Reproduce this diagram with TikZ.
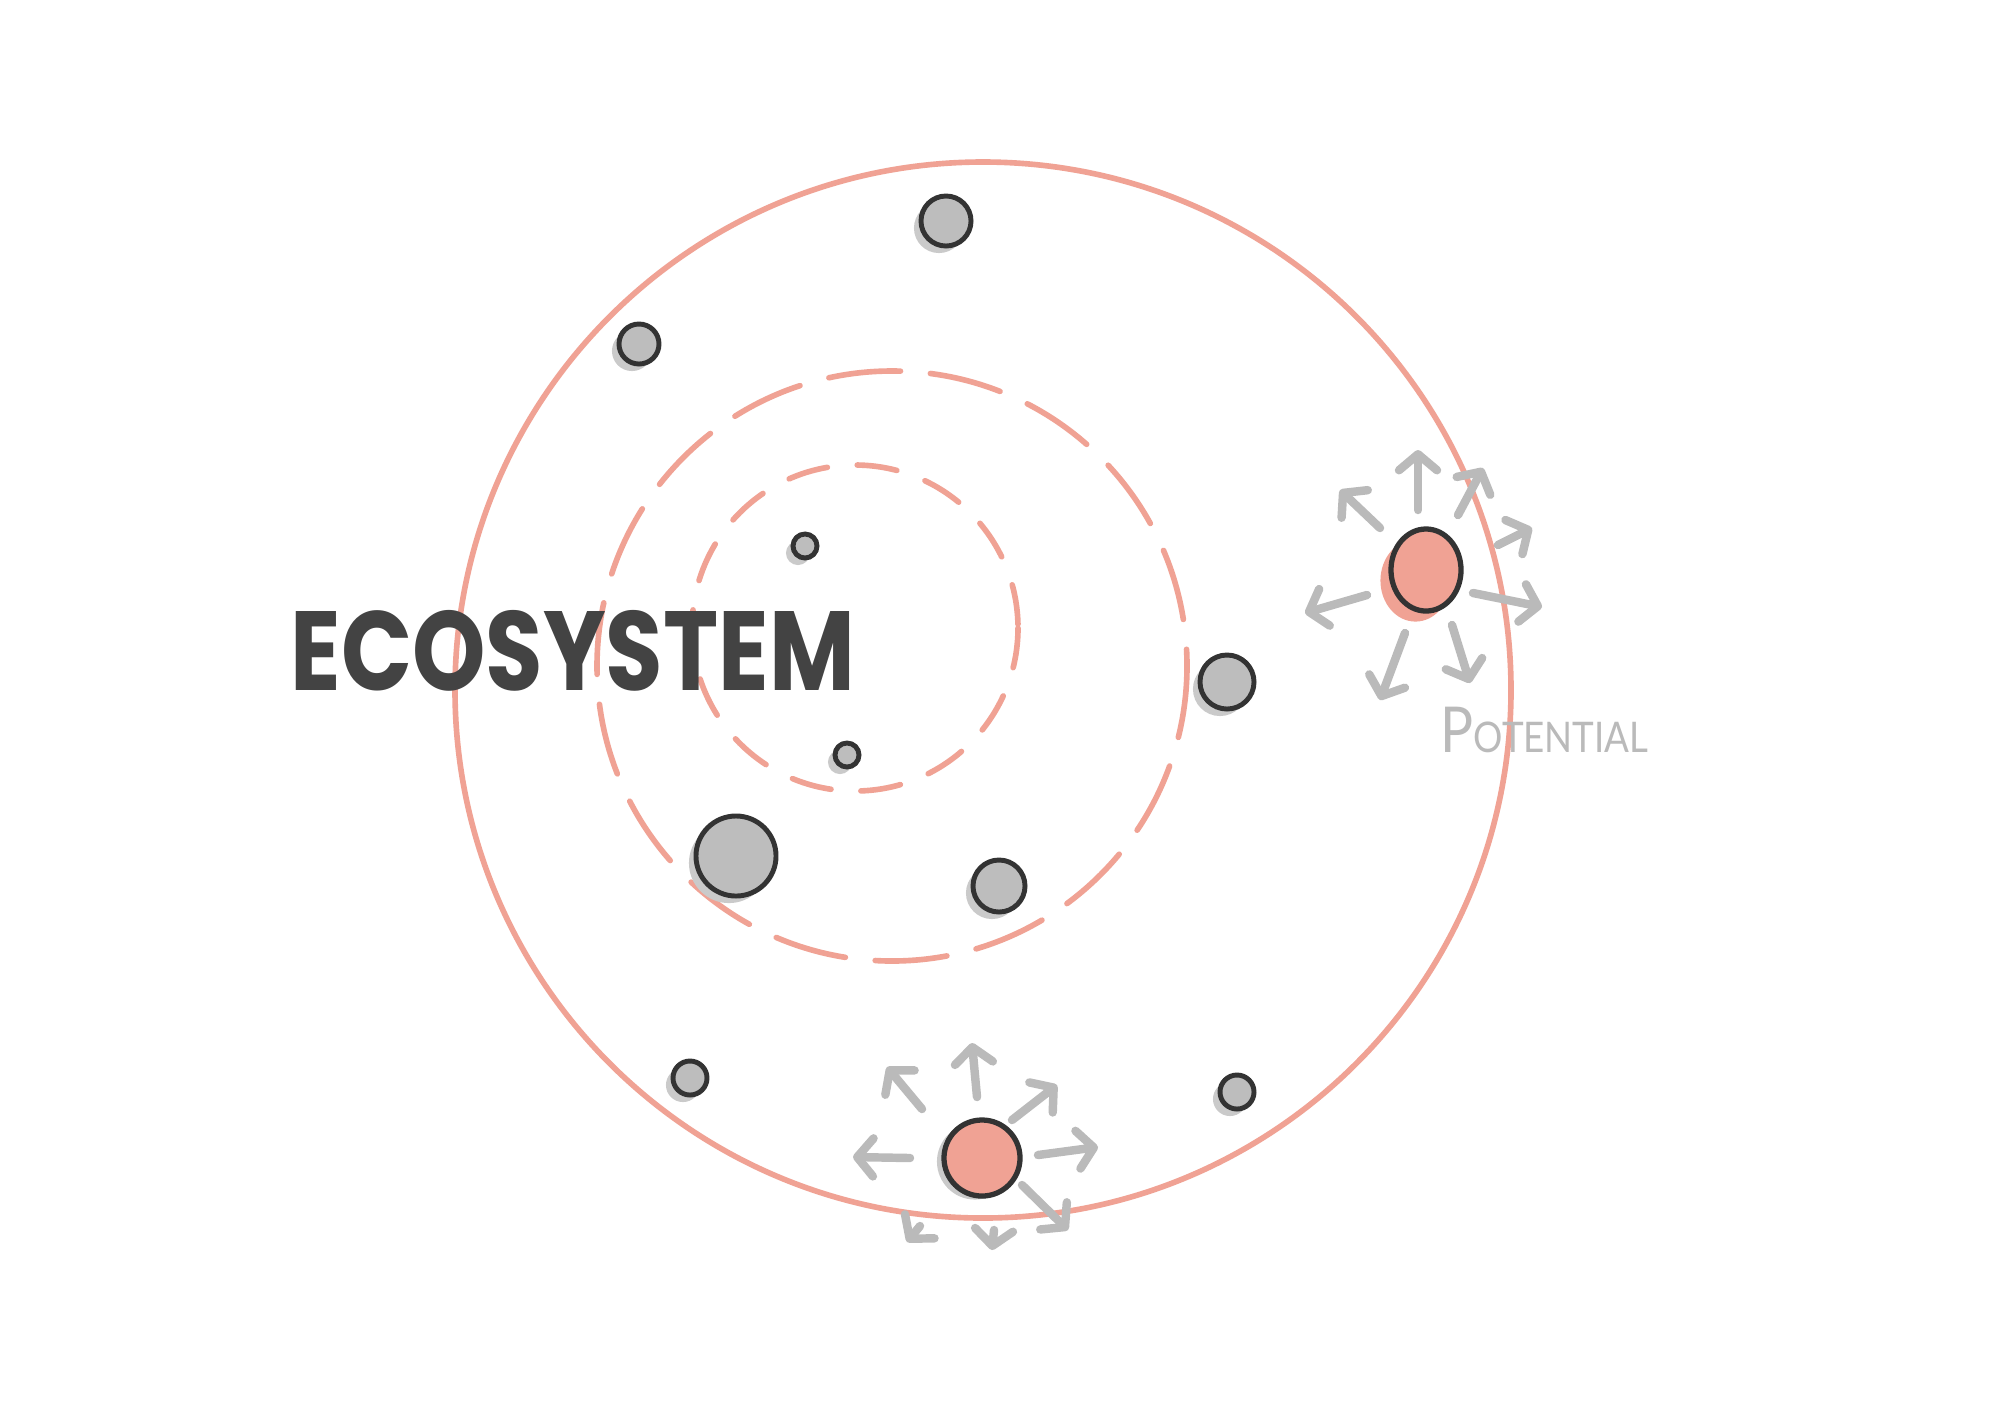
\documentclass[tikz,border=0pt]{standalone}
\usepackage{fontspec}
\usepackage{xcolor}
\usepackage{tikz}
\usetikzlibrary{positioning, calc, shadows, shapes.geometric, arrows.meta}
\newfontfamily\handfont[FakeStretch=0.83]{Poppins}
\newfontfamily\notefont[FakeStretch=0.87]{Lato}
\definecolor{OrbitRed}{HTML}{F0A294}
\definecolor{DotFill}{HTML}{BDBDBD}
\definecolor{DotShade}{HTML}{CACACA}
\definecolor{DotLine}{HTML}{333333}
\definecolor{InkGrey}{HTML}{434343}
\definecolor{ArrowGrey}{HTML}{BABABA}

\begin{document}
\begin{tikzpicture}[x=0.01cm, y=-0.01cm,
					ActorNode/.style={circle, draw=DotLine, fill=DotFill, line width=1.4pt, inner sep=0pt, drop shadow={fill=DotShade, opacity=1, shadow xshift=-2pt, shadow yshift=-2pt}},
					SeedNode/.style={ellipse, draw=DotLine, fill=OrbitRed, line width=1.5pt, inner sep=0pt},
					Orbit/.style={draw=OrbitRed, line width=1.6pt, line cap=round},
					FlowArrow/.style={draw=ArrowGrey, line width=2.4pt, line cap=round, line join=round, -{Straight Barb[round, length=1.6mm, width=3.8mm]}}]

				\fill[white] (0,0) rectangle (2000,1414);
				\useasboundingbox (0,0) rectangle (2000,1414);

				% orbits
				\draw[Orbit] (983,690) circle (528);
				\draw[Orbit, dash pattern=on 0.72cm off 0.3cm] (892,666) circle (295);
				\draw[Orbit, dash pattern=on 0.4cm off 0.3cm] (855,628) circle (163);

				\node[anchor=base west, inner sep=0pt, text=InkGrey, font=\handfont\bfseries\fontsize{32}{32}\selectfont] (Title) at (290,690) {ECOSYSTEM};

				% members
				\node[ActorNode, minimum size=0.5cm] (Actor1) at (946,221) {};
				\node[ActorNode, minimum size=0.4cm] (Actor2) at (639,344) {};
				\node[ActorNode, minimum size=0.24cm] (Actor3) at (805,546) {};
				\node[ActorNode, minimum size=0.24cm] (Actor4) at (847,755) {};
				\node[ActorNode, minimum size=0.8cm] (Actor5) at (736,856) {};
				\node[ActorNode, minimum size=0.52cm] (Actor6) at (999,886) {};
				\node[ActorNode, minimum size=0.54cm] (Actor7) at (1227,682) {};
				\node[ActorNode, minimum size=0.34cm] (Actor8) at (690,1078) {};
				\node[ActorNode, minimum size=0.34cm] (Actor9) at (1237,1092) {};

				% new players
				\node[SeedNode, minimum width=0.7cm, minimum height=0.82cm, drop shadow={fill=OrbitRed, opacity=1, shadow xshift=-3pt, shadow yshift=-3pt}] (Seed) at (1426,570) {};
				\node[SeedNode, circle, minimum size=0.76cm, drop shadow={fill=DotShade, opacity=1, shadow xshift=-2pt, shadow yshift=-1pt}] (Sprout) at (982,1158) {};

				\draw[FlowArrow] ($(Seed) + (-8,-60)$) -- ($(Seed) + (-8,-120)$);
				\draw[FlowArrow] ($(Seed) + (-46,-42)$) -- ($(Seed) + (-86,-80)$);
				\draw[FlowArrow] ($(Seed) + (32,-55)$) -- ($(Seed) + (57,-102)$);
				\draw[FlowArrow] ($(Seed) + (72,-25)$) -- ($(Seed) + (106,-42)$);
				\draw[FlowArrow] ($(Seed) + (47,23)$) -- ($(Seed) + (116,37)$);
				\draw[FlowArrow] ($(Seed) + (-59,25)$) -- ($(Seed) + (-121,43)$);
				\draw[FlowArrow] ($(Seed) + (-21,63)$) -- ($(Seed) + (-46,130)$);
				\draw[FlowArrow] ($(Seed) + (26,55)$) -- ($(Seed) + (44,113)$);
				\node[anchor=base west, inner sep=0pt, text=ArrowGrey, font=\notefont\fontsize{12}{12}\selectfont] (Label) at (1440,752) {{\fontsize{18}{18}\selectfont P}OTENTIAL};

				\draw[FlowArrow] ($(Sprout) + (-60,-49)$) -- ($(Sprout) + (-95,-91)$);
				\draw[FlowArrow] ($(Sprout) + (-5,-61)$) -- ($(Sprout) + (-10,-115)$);
				\draw[FlowArrow] ($(Sprout) + (30,-38)$) -- ($(Sprout) + (75,-73)$);
				\draw[FlowArrow] ($(Sprout) + (56,-3)$) -- ($(Sprout) + (116,-11)$);
				\draw[FlowArrow] ($(Sprout) + (-72,0)$) -- ($(Sprout) + (-129,-1)$);
				\draw[FlowArrow] ($(Sprout) + (40,27)$) -- ($(Sprout) + (86,72)$);
				\draw[FlowArrow] ($(Sprout) + (-62,68)$) -- ($(Sprout) + (-75,84)$);
				\draw[FlowArrow] ($(Sprout) + (12,72)$) -- ($(Sprout) + (10,92)$);
			\end{tikzpicture}
\end{document}
